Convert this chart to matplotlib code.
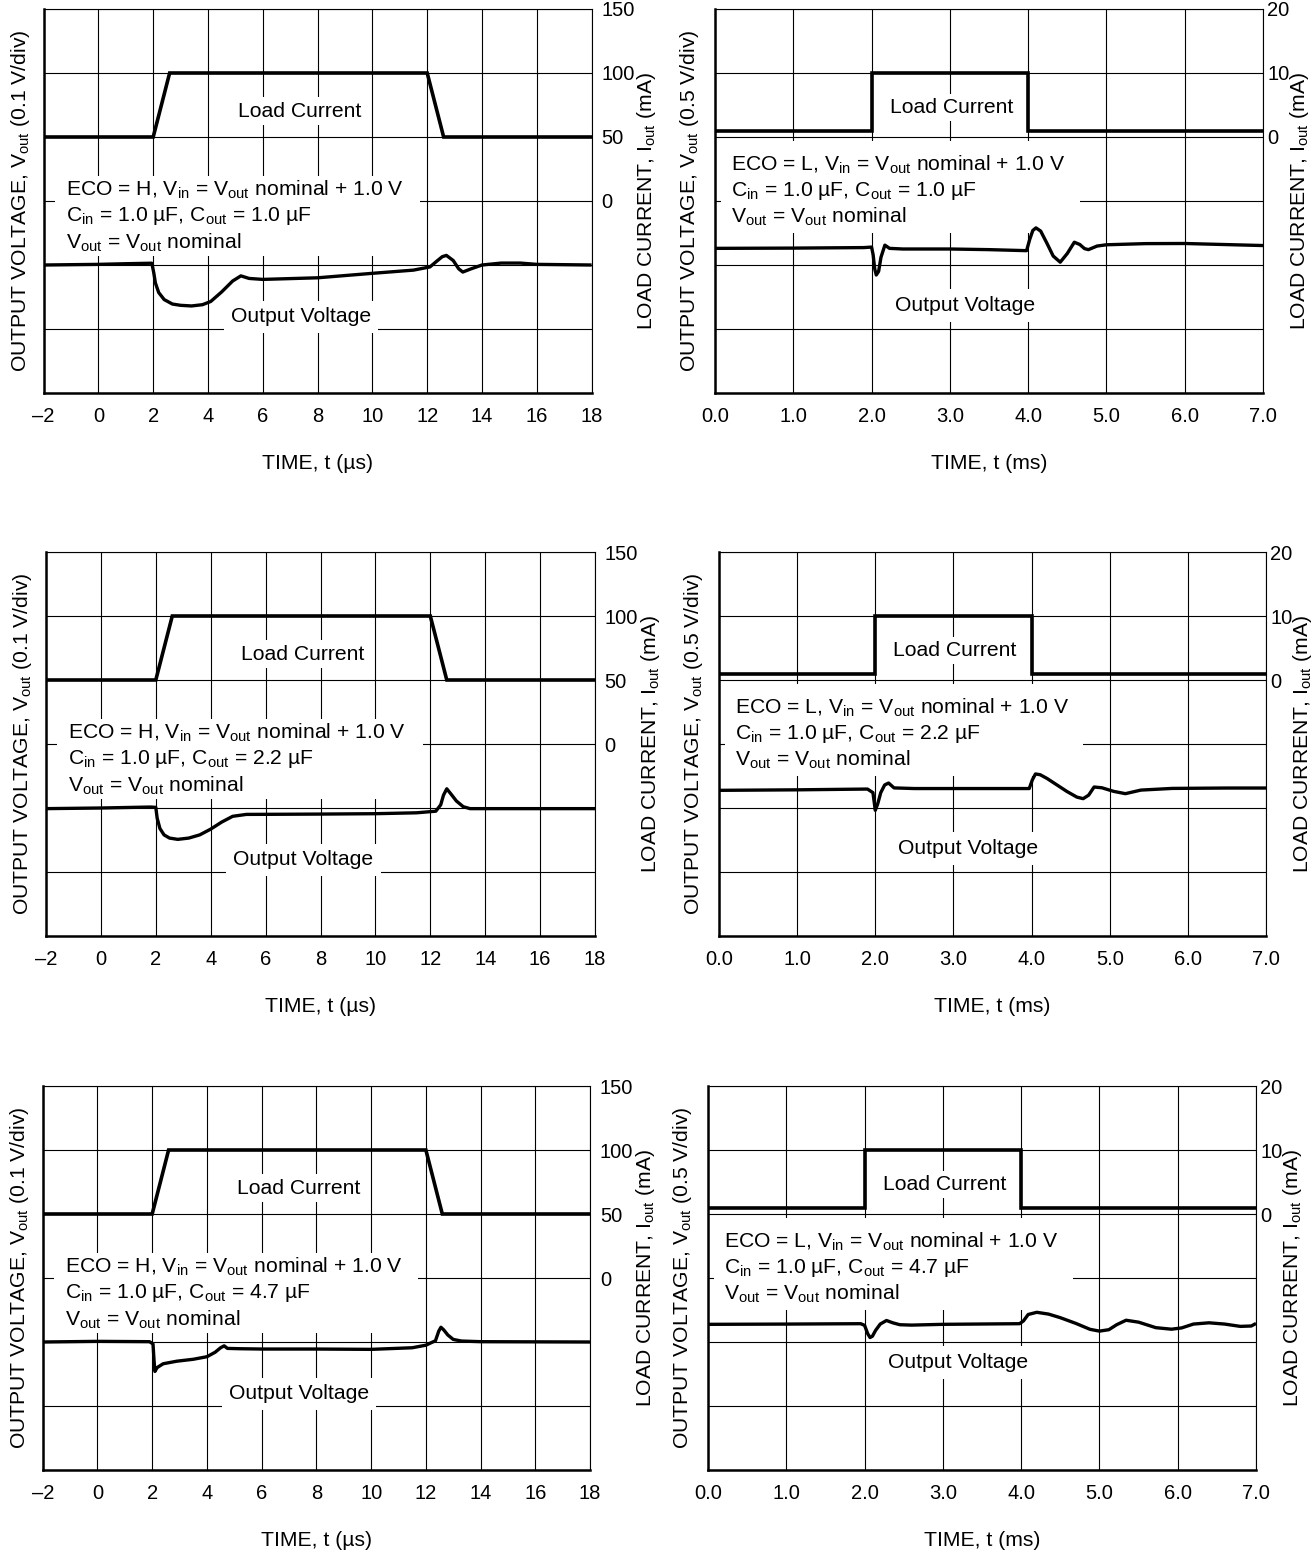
import numpy as np
import matplotlib
matplotlib.use("Agg")
import matplotlib.pyplot as plt
from matplotlib.patches import Rectangle

plt.rcParams['font.family'] = ['Liberation Sans', 'DejaVu Sans']
plt.rcParams['mathtext.fontset'] = 'custom'
plt.rcParams['mathtext.rm'] = 'Liberation Sans'
plt.rcParams['mathtext.it'] = 'Liberation Sans:italic'
plt.rcParams['mathtext.bf'] = 'Liberation Sans:bold'

# ---------------- data ----------------
# time axes
xticks_us = [-2, 0, 2, 4, 6, 8, 10, 12, 14, 16, 18]
xticklabels_us = ['–2', '0', '2', '4', '6', '8', '10', '12', '14', '16', '18']
xticks_ms = [0, 1, 2, 3, 4, 5, 6, 7]
xticklabels_ms = ['0.0', '1.0', '2.0', '3.0', '4.0', '5.0', '6.0', '7.0']

# right axis (load current) ticks
iticks_us = [0, 50, 100, 150]
iticks_ms = [0, 10, 20]

# load current, ECO = H panels (µs)
load_t_us = [-2, 2.0, 2.6, 12.0, 12.6, 18]
load_i_us = [50, 50, 100, 100, 50, 50]
# load current, ECO = L panels (ms)
load_t_ms = [0, 2.0, 2.0, 4.0, 4.0, 7.0]
load_i_ms = [0.9, 0.9, 10, 10, 0.9, 0.9]

# output voltage deviation (V), ECO = H, Cout = 1.0 µF
v1h_t = [-2, 0, 1.0, 1.95, 2.02, 2.08, 2.2, 2.4, 2.7, 3.0, 3.4, 3.8, 4.1, 4.5, 4.9, 5.2,
         5.5, 6.0, 8.0, 10.0, 11.5, 12.1, 12.35, 12.55, 12.7, 12.95, 13.15, 13.3, 13.6,
         14.0, 14.7, 15.4, 16.0, 18.0]
v1h_v = [0.0, 0.001, 0.002, 0.0028, -0.012, -0.028, -0.043, -0.054, -0.061, -0.063, -0.064,
         -0.062, -0.057, -0.042, -0.025, -0.017, -0.021, -0.0225, -0.020, -0.013, -0.008,
         -0.003, 0.006, 0.013, 0.015, 0.007, -0.006, -0.011, -0.006, 0.0, 0.003, 0.003,
         0.001, 0.0]
# ECO = H, Cout = 2.2 µF
v2h_t = [-2, 0, 1.8, 2.0, 2.05, 2.15, 2.3, 2.5, 2.8, 3.2, 3.6, 4.0, 4.4, 4.8, 5.3, 6, 8,
         10, 11.5, 12.2, 12.38, 12.48, 12.6, 12.75, 12.95, 13.2, 13.45, 14, 18]
v2h_v = [-0.001, 0.0, 0.0015, 0.001, -0.016, -0.032, -0.042, -0.047, -0.049, -0.047,
         -0.042, -0.033, -0.022, -0.013, -0.010, -0.0099, -0.0095, -0.0089, -0.0075,
         -0.005, 0.005, 0.02, 0.030, 0.022, 0.011, 0.002, -0.001, -0.001, -0.001]
# ECO = H, Cout = 4.7 µF
v3h_t = [-2, 0, 1.9, 2.03, 2.07, 2.1, 2.18, 2.4, 2.9, 3.5, 4.0, 4.3, 4.5, 4.63, 4.75, 5.2,
         6, 8, 10, 11.5, 12.0, 12.35, 12.47, 12.55, 12.65, 12.8, 13.0, 13.3, 14, 18]
v3h_v = [0.0, 0.001, 0.0005, -0.003, -0.030, -0.046, -0.040, -0.034, -0.030, -0.027,
         -0.023, -0.016, -0.009, -0.006, -0.010, -0.0105, -0.011, -0.011, -0.0115,
         -0.009, -0.005, 0.002, 0.017, 0.023, 0.019, 0.011, 0.004, 0.0015, 0.0005, 0.0]

# ECO = L, Cout = 1.0 µF (V)
v1l_t = [0, 1.0, 1.9, 2.0, 2.02, 2.04, 2.06, 2.09, 2.12, 2.17, 2.23, 2.4, 3.0, 3.5, 3.98,
         4.02, 4.06, 4.1, 4.16, 4.24, 4.32, 4.41, 4.5, 4.59, 4.66, 4.72, 4.77, 4.88, 5.0,
         5.5, 6.0, 6.5, 7.0]
v1l_v = [0.130, 0.132, 0.136, 0.14, 0.08, -0.03, -0.078, -0.05, 0.06, 0.155, 0.13, 0.125,
         0.125, 0.12, 0.112, 0.20, 0.27, 0.29, 0.265, 0.17, 0.07, 0.022, 0.09, 0.178,
         0.16, 0.128, 0.12, 0.148, 0.158, 0.167, 0.168, 0.160, 0.152]
# ECO = L, Cout = 2.2 µF
v2l_t = [0, 1.0, 1.9, 1.97, 2.0, 2.03, 2.07, 2.12, 2.17, 2.24, 2.5, 3.0, 3.97, 4.01, 4.05,
         4.11, 4.2, 4.3, 4.45, 4.58, 4.66, 4.73, 4.8, 4.9, 5.05, 5.2, 5.4, 5.8, 6.5, 7.0]
v2l_v = [0.138, 0.142, 0.148, 0.12, -0.018, 0.03, 0.12, 0.18, 0.195, 0.157, 0.152, 0.152,
         0.152, 0.22, 0.266, 0.26, 0.23, 0.19, 0.13, 0.085, 0.073, 0.1, 0.164, 0.158,
         0.13, 0.112, 0.14, 0.153, 0.156, 0.156]
# ECO = L, Cout = 4.7 µF
v3l_t = [0, 1.0, 1.95, 2.0, 2.04, 2.07, 2.1, 2.14, 2.2, 2.28, 2.36, 2.45, 2.6, 3.0, 3.98,
         4.03, 4.09, 4.2, 4.35, 4.5, 4.7, 4.88, 5.0, 5.12, 5.22, 5.34, 5.5, 5.72, 5.92,
         6.05, 6.2, 6.4, 6.6, 6.8, 6.94, 7.0]
v3l_v = [0.138, 0.14, 0.143, 0.13, 0.065, 0.035, 0.045, 0.09, 0.14, 0.168, 0.150, 0.135,
         0.132, 0.138, 0.143, 0.165, 0.215, 0.232, 0.218, 0.19, 0.145, 0.099, 0.085,
         0.096, 0.135, 0.170, 0.155, 0.112, 0.100, 0.11, 0.140, 0.150, 0.140, 0.122,
         0.125, 0.145]

cout_values = ['1.0', '2.2', '4.7']

# ---------------- figure ----------------
W, H = 1315, 1550
fig = plt.figure(figsize=(W / 100, H / 100), dpi=100)

FS = 15.2     # annotation / label text
TFS = 14.5    # tick labels


def rect(l, t, r, b):
    return [l / W, 1 - b / H, (r - l) / W, (b - t) / H]


def panel(r, eco, cout, tv, vv):
    ax = fig.add_axes(r)
    if eco == 'H':
        ax.set_xlim(-2, 18)
        ax.set_xticks(xticks_us)
        ax.set_xticklabels(xticklabels_us)
        ax.set_ylim(-0.2, 0.4)
        ax.set_yticks(np.arange(-0.2, 0.41, 0.1))
        vdiv = '0.1'
        xlab = 'TIME, t (µs)'
    else:
        ax.set_xlim(0, 7)
        ax.set_xticks(xticks_ms)
        ax.set_xticklabels(xticklabels_ms)
        ax.set_ylim(-1.0, 2.0)
        ax.set_yticks(np.arange(-1.0, 2.01, 0.5))
        vdiv = '0.5'
        xlab = 'TIME, t (ms)'
    ax.set_yticklabels([])
    ax.set_axisbelow(True)
    ax.grid(True, color='black', lw=0.8)
    ax.tick_params(axis='both', length=0, labelsize=TFS)
    ax.tick_params(axis='x', pad=10)
    for s in ['left', 'bottom']:
        ax.spines[s].set_linewidth(1.8)
    for s in ['top', 'right']:
        ax.spines[s].set_linewidth(0.8)

    ax.plot(tv, vv, color='black', lw=2.4, solid_joinstyle='round',
            solid_capstyle='butt', zorder=3)

    ax.set_xlabel(xlab, fontsize=FS)
    ax.xaxis.set_label_coords(0.5, -0.158)
    ax.set_ylabel('OUTPUT VOLTAGE, V$_{\\mathrm{out}}$ (' + vdiv + ' V/div)', fontsize=FS)
    ax.yaxis.label.set_va('center')

    ax2 = ax.twinx()
    for s in ax2.spines.values():
        s.set_visible(False)
    if eco == 'H':
        ax2.set_ylim(-150, 150)
        ax2.set_yticks(iticks_us)
        ax2.set_yticklabels([str(v) for v in iticks_us])
        ax2.plot(load_t_us, load_i_us, color='black', lw=2.6, solid_joinstyle='miter')
        ax2.tick_params(axis='y', length=0, pad=7, labelsize=TFS)
        ax.yaxis.set_label_coords(-0.042, 0.5)
        ax2.yaxis.set_label_coords(1.101, 0.5)
    else:
        ax2.set_ylim(-40, 20)
        ax2.set_yticks(iticks_ms)
        ax2.set_yticklabels([str(v) for v in iticks_ms])
        ax2.plot(load_t_ms, load_i_ms, color='black', lw=2.6, solid_joinstyle='miter')
        ax2.tick_params(axis='y', length=0, pad=3, labelsize=TFS)
        ax.yaxis.set_label_coords(-0.046, 0.5)
        ax2.yaxis.set_label_coords(1.067, 0.5)
    ax2.set_ylabel('LOAD CURRENT, I$_{\\mathrm{out}}$ (mA)', fontsize=FS)
    ax2.yaxis.label.set_va('center')

    # annotations
    box = dict(facecolor='white', edgecolor='none', pad=3)
    lines = ['ECO = ' + eco + ', V$_{\\mathrm{in}}$ = V$_{\\mathrm{out}}$ nominal + 1.0 V',
             'C$_{\\mathrm{in}}$ = 1.0 µF, C$_{\\mathrm{out}}$ = ' + cout + ' µF',
             'V$_{\\mathrm{out}}$ = V$_{\\mathrm{out}}$ nominal']
    if eco == 'H':
        lc = (0.467, 0.734)
        ov = (0.469, 0.198)
        ex = 0.040
        ey = [0.529, 0.461, 0.391]
        bx = (0.020, 0.686)
        by = (0.357, 0.565)
    else:
        lc = (0.431, 0.744)
        ov = (0.456, 0.281 if cout == '4.7' else 0.229)
        ex = 0.029
        ey = [0.594, 0.527, 0.459]
        bx = (0.011, 0.666)
        by = (0.417, 0.655)
    ax.add_patch(Rectangle((bx[0], by[0]), bx[1] - bx[0], by[1] - by[0],
                           transform=ax.transAxes, facecolor='white',
                           edgecolor='none', zorder=1))
    for y, s in zip(ey, lines):
        ax.text(ex, y, s, transform=ax.transAxes, fontsize=FS, ha='left',
                va='center', zorder=4)
    ax.text(lc[0], lc[1], 'Load Current', transform=ax.transAxes, fontsize=FS,
            ha='center', va='center', bbox=box, zorder=4)
    ax.text(ov[0], ov[1], 'Output Voltage', transform=ax.transAxes, fontsize=FS,
            ha='center', va='center', bbox=dict(facecolor='white', edgecolor='none', pad=5),
            zorder=4)
    return ax


panel(rect(43.6, 9, 591.6, 393), 'H', cout_values[0], v1h_t, v1h_v)
panel(rect(715, 9, 1263, 393), 'L', cout_values[0], v1l_t, v1l_v)
panel(rect(46, 552, 595, 936), 'H', cout_values[1], v2h_t, v2h_v)
panel(rect(719, 552, 1266, 936), 'L', cout_values[1], v2l_t, v2l_v)
panel(rect(42.7, 1086, 590.1, 1470), 'H', cout_values[2], v3h_t, v3h_v)
panel(rect(708, 1086, 1256, 1470), 'L', cout_values[2], v3l_t, v3l_v)

fig.savefig('out.png', dpi=100)
